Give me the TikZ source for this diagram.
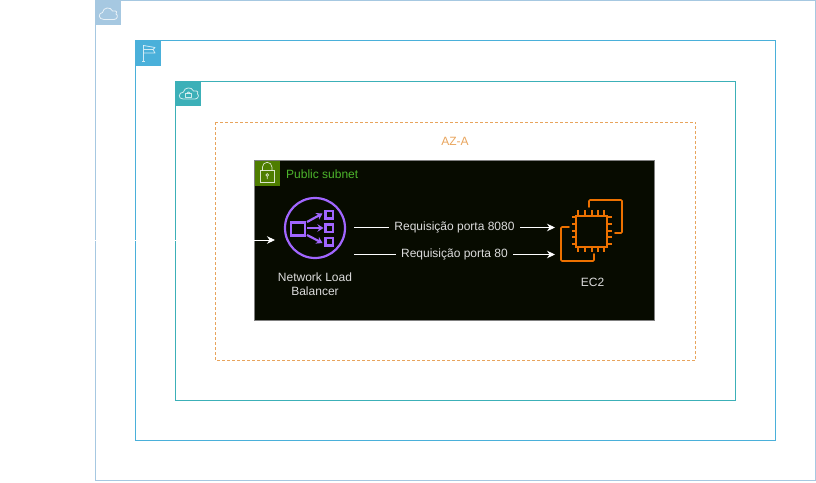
\documentclass[tikz,border=0pt]{standalone}
\usepackage{fontspec}
\setmainfont{Liberation Sans}
\usetikzlibrary{arrows.meta}
\definecolor{cloudc}{HTML}{A6C8E1}
\definecolor{regionc}{HTML}{4AB0DA}
\definecolor{vpcc}{HTML}{3CB0B8}
\definecolor{azc}{HTML}{E8A45C}
\definecolor{subbg}{HTML}{070B00}
\definecolor{subhead}{HTML}{4E7D00}
\definecolor{subtext}{HTML}{4DB52C}
\definecolor{nlbc}{HTML}{A166FF}
\definecolor{ecc}{HTML}{ED7100}
\definecolor{txtc}{HTML}{DCDCDC}
\tikzset{
  x=1pt,y=-1pt,
  frame/.style={draw=#1,line width=.9pt,fill=none},
  head/.style={fill=#1,draw=none,minimum width=25pt,minimum height=25pt,inner sep=0pt,anchor=north west},
  icon/.style={draw=white,line width=.8pt,opacity=.75,line join=round},
  lbl/.style={font=\fontsize{12}{14}\selectfont,text=txtc,inner sep=0pt,align=center},
  wire/.style={draw=white,line width=.9pt,-{Stealth[length=8pt,width=7.5pt]}},
  nlbline/.style={draw=nlbc,line width=2.2pt},
  nlbarrow/.style={draw=nlbc,line width=2.2pt,-{Stealth[length=6pt,width=7.5pt]}},
  ecline/.style={draw=ecc,line width=1.7pt,line join=round},
}
\begin{document}
\begin{tikzpicture}
\useasboundingbox (0,0) rectangle (816,482);
% frames
\draw[frame=cloudc] (95.5,0.5) rectangle (815.5,480.5);
\node[head=cloudc] (cloudhead) at (95.5,0) {};
\draw[frame=regionc] (135.5,40.5) rectangle (775.5,440.5);
\node[head=regionc] (regionhead) at (135.5,40.5) {};
\draw[frame=vpcc] (175.5,81) rectangle (735.5,400.5);
\node[head=vpcc] (vpchead) at (175.5,81) {};
\draw[draw=azc,line width=.7pt,dash pattern=on 3pt off 2pt] (215.5,122) rectangle (695.5,360.5);
\node[lbl,text=azc] (azlabel) at (455,141) {AZ-A};
% subnet
\draw[draw=gray,fill=subbg,line width=.7pt] (254.5,160.5) rectangle (654.5,320.5);
\node[head=subhead] (subnethead) at (254.5,160.5) {};
\node[lbl,text=subtext,anchor=west] (subnetlabel) at (286,174) {Public subnet};
% cloud icon
\draw[icon] (104,19.5) .. controls (98,19.5) and (98,13) .. (102.5,12.5) .. controls (103,7) and (111,6.5) .. (112.5,11) .. controls (117,10) and (118,13) .. (116,14) .. controls (118.5,15) and (117.5,19.5) .. (114,19.5) -- cycle;
% flag icon
\draw[icon] (143.5,61.5) -- (143.5,44.5) (142,61.5) -- (145,61.5);
\draw[icon] (143.5,45.5) -- (155,47.5) -- (153,49.5) -- (155,53) -- (143.5,53);
\draw[icon] (143.5,49.5) -- (153,49.5);
% vpc icon
\draw[icon] (183,99) .. controls (178,99) and (178,92.5) .. (183.5,92) .. controls (184,87) and (192,86.5) .. (193.5,91) .. controls (198,90) and (199,93) .. (197.5,94) .. controls (199.5,95) and (198,99) .. (195,99) -- cycle;
\draw[icon] (185.5,93.5) rectangle (191.5,97);
\draw[icon] (186.8,93.5) arc[start angle=180,end angle=360,radius=1.7];
% subnet lock
\draw[draw=white,line width=.7pt,opacity=.8,fill=none] (260.5,170.5) rectangle (274,182.5);
\draw[draw=white,line width=.7pt,opacity=.8] (262.5,170.5) -- (262.5,167) arc[start angle=180,end angle=360,radius=4.7] -- (271.9,170.5);
\draw[draw=white,line width=.7pt,opacity=.8] (267.2,175) circle[radius=1.4] (267.2,176.4) -- (267.2,179);
% NLB icon
\node[circle,draw=nlbc,line width=2.2pt,fill=none,minimum size=60pt,inner sep=0pt] (nlb) at (315,228) {};
\node[lbl] (nlblabel) at (315,284) {Network Load\\[.5pt]Balancer};
\draw[nlbline] (291,222.5) rectangle (305,235.5);
\draw[nlbline] (325.5,211) rectangle (333,218.5);
\draw[nlbline] (325.5,224.5) rectangle (333,232);
\draw[nlbline] (325.5,238) rectangle (333,245.5);
\draw[nlbarrow] (307,222) -- (322.5,213.5);
\draw[nlbarrow] (307,228) -- (323.5,228);
\draw[nlbarrow] (307,235) -- (322.5,243);
% EC2 icon
\node[draw=ecc,line width=1.7pt,minimum width=31pt,minimum height=31pt,inner sep=0pt] (ec2) at (591.5,231.5) {};
\foreach \p in {578,585,592,598,604}{
  \draw[ecline] (\p,210) -- (\p,216) (\p,247) -- (\p,252);
}
\foreach \p in {217,224,231,237,244}{
  \draw[ecline] (572,\p) -- (576,\p) (607,\p) -- (612,\p);
}
\draw[ecline,line cap=round,rounded corners=1pt] (589,207) -- (589,200) -- (622,200) -- (622,233) -- (615,233);
\draw[ecline,line cap=round,rounded corners=1pt] (569,227) -- (561,227) -- (561,261) -- (594,261) -- (594,254);
\node[lbl] (ec2label) at (592.5,282) {EC2};
% connectors
\coordinate (entry) at (95,240);
\coordinate (entryend) at (275,240);
\draw[wire] (entry) -- (entryend);
\coordinate (a1) at (354,227.5);
\coordinate (a2) at (555,227.5);
\coordinate (b1) at (354,254.5);
\coordinate (b2) at (555,254.5);
\draw[wire] (a1) -- node[lbl,fill=subbg,inner xsep=5pt,inner ysep=2pt] (l8080) {Requisição porta 8080} (a2);
\draw[wire] (b1) -- node[lbl,fill=subbg,inner xsep=5pt,inner ysep=2pt] (l80) {Requisição porta 80} (b2);
\end{tikzpicture}
\end{document}
